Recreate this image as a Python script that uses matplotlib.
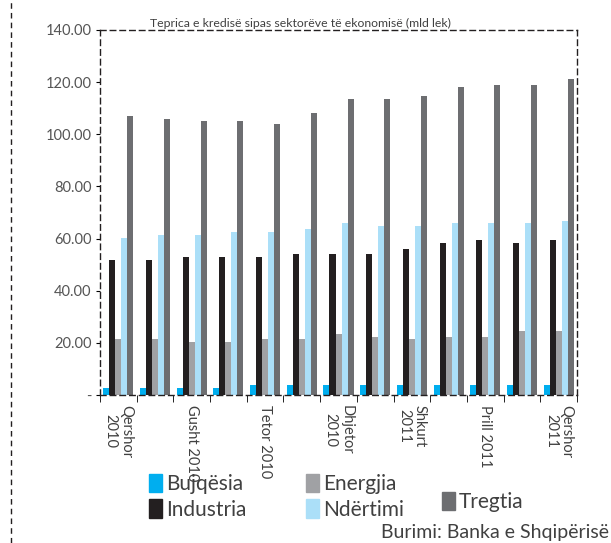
import numpy as np
import matplotlib
matplotlib.use("Agg")
import matplotlib.pyplot as plt
from matplotlib.patches import Patch
from matplotlib.lines import Line2D

plt.rcParams["font.family"] = ["Lato", "DejaVu Sans"]

# te dhenat (mld lek), qershor 2010 - qershor 2011
muajt = ["Qershor\n2010", "", "Gusht 2010", "", "Tetor 2010", "", "Dhjetor\n2010",
         "", "Shkurt\n2011", "", "Prill 2011", "", "Qershor\n2011"]
bujqesia = [2.8, 2.8, 2.8, 2.8, 3.8, 3.8, 3.8, 3.9, 3.9, 3.9, 3.9, 3.9, 3.9]
industria = [51.8, 51.8, 52.8, 52.8, 52.8, 54.0, 54.0, 54.0, 56.0, 58.2, 59.3, 58.2, 59.3]
energjia = [21.4, 21.4, 20.2, 20.2, 21.4, 21.4, 23.4, 22.4, 21.4, 22.4, 22.4, 24.5, 24.5]
ndertimi = [60.3, 61.4, 61.4, 62.5, 62.5, 63.7, 65.9, 64.8, 64.8, 65.9, 65.9, 65.9, 66.9]
tregtia = [107.1, 106.0, 105.0, 105.0, 103.9, 108.2, 113.5, 113.5, 114.7, 118.0, 119.0, 119.0, 121.2]

seri = [("Bujqësia", bujqesia, "#00AEEF"),
        ("Industria", industria, "#231F20"),
        ("Energjia", energjia, "#A0A1A4"),
        ("Ndërtimi", ndertimi, "#ABDFF8"),
        ("Tregtia", tregtia, "#6D6E71")]

txt = "#404040"
fig = plt.figure(figsize=(6.11, 5.43), dpi=100)
ax = fig.add_axes([0.1637, 0.2726, 0.7807, 0.6722])

x = np.arange(len(muajt))
w = 0.164
for i, (emri, vlerat, ngjyra) in enumerate(seri):
    ax.bar(x + (i - 2) * w, vlerat, width=w, color=ngjyra, label=emri)

ax.set_xlim(-0.5, len(muajt) - 0.5)
ax.set_ylim(0, 140)
ax.set_yticks(np.arange(0, 141, 20))
ax.set_yticklabels(["-"] + [f"{v:.2f}" for v in range(20, 141, 20)])
ax.tick_params(axis="y", direction="out", length=3, labelsize=10.5, labelcolor="#555555", pad=3)

ax.set_xticks(x)
ax.set_xticklabels(muajt, rotation=270, fontsize=10.5, color=txt, linespacing=1.15,
                   va="top", ha="center")
ax.tick_params(axis="x", which="major", length=0, pad=7)
ax.set_xticks(np.arange(-0.5, len(muajt)), minor=True)
ax.tick_params(axis="x", which="minor", length=5, direction="out")

for s in ax.spines.values():
    s.set_linestyle((0, (4, 3)))
    s.set_linewidth(1)
    s.set_color("#231F20")

fig.text(300 / 611, 1 - 29 / 543, "Teprica e kredisë sipas sektorëve të ekonomisë (mld lek)",
         ha="center", va="bottom", fontsize=8.8, color=txt)

# vije e nderprere ne te majte te figures
fig.add_artist(Line2D([11 / 611, 11 / 611], [0, 1], transform=fig.transFigure,
                      color="#231F20", lw=1, linestyle=(0, (4, 3))))

def leg(idx, xpos, ypos):
    h = [Patch(color=seri[i][2], label=seri[i][0]) for i in idx]
    lg = fig.legend(handles=h, loc="upper left", bbox_to_anchor=(xpos / 611, 1 - ypos / 543),
                    frameon=False, fontsize=15, handlelength=0.62, handleheight=0.96,
                    handletextpad=0.2, labelspacing=0.25, borderpad=0, borderaxespad=0)
    for t in lg.get_texts():
        t.set_color(txt)
    return lg

leg([0, 1], 149, 474)
leg([2, 3], 306, 474)
leg([4], 442, 492)

fig.text(609 / 611, 1 - 541 / 543, "Burimi: Banka e Shqipërisë", ha="right", va="bottom",
         fontsize=14, color=txt)

fig.savefig("out.png", dpi=100)
